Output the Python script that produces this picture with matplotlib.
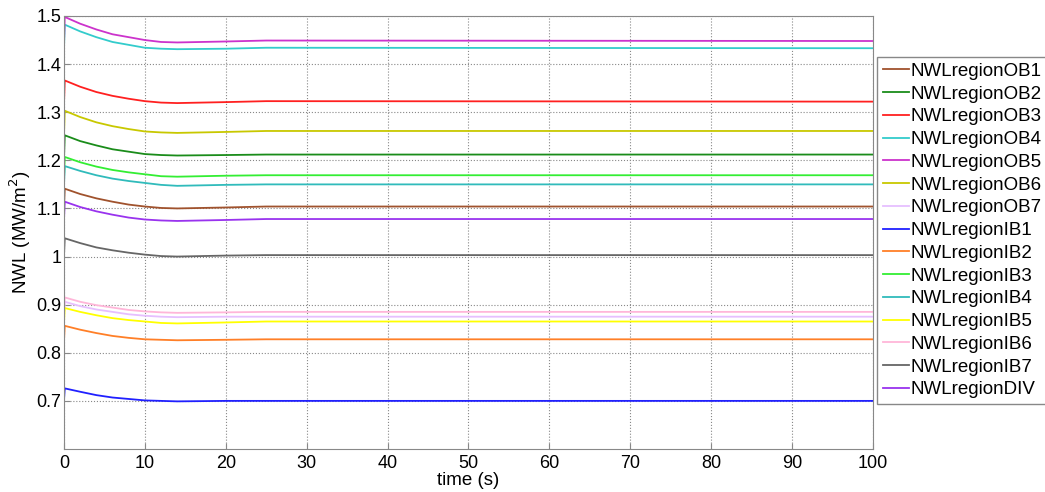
import matplotlib
matplotlib.use("Agg")
import matplotlib.pyplot as plt

plt.rcParams['font.family'] = ['Liberation Sans', 'DejaVu Sans']

# time points (s)
t = [0, 0.1, 2, 4, 6, 8, 10, 12, 14, 20, 25, 100]

names = ["NWLregionOB1", "NWLregionOB2", "NWLregionOB3", "NWLregionOB4", "NWLregionOB5",
         "NWLregionOB6", "NWLregionOB7", "NWLregionIB1", "NWLregionIB2", "NWLregionIB3",
         "NWLregionIB4", "NWLregionIB5", "NWLregionIB6", "NWLregionIB7", "NWLregionDIV"]

ob1 = [1.100, 1.141, 1.130, 1.121, 1.114, 1.108, 1.104, 1.101, 1.100, 1.102, 1.104, 1.104]
ob2 = [1.200, 1.252, 1.240, 1.231, 1.223, 1.218, 1.213, 1.211, 1.210, 1.211, 1.212, 1.212]
ob3 = [1.315, 1.366, 1.353, 1.342, 1.334, 1.328, 1.323, 1.320, 1.319, 1.321, 1.323, 1.322]
ob4 = [1.430, 1.482, 1.468, 1.456, 1.446, 1.440, 1.434, 1.432, 1.431, 1.432, 1.434, 1.433]
ob5 = [1.440, 1.498, 1.484, 1.472, 1.462, 1.456, 1.450, 1.446, 1.445, 1.447, 1.449, 1.448]
ob6 = [1.250, 1.303, 1.290, 1.279, 1.271, 1.265, 1.260, 1.258, 1.257, 1.259, 1.261, 1.261]
ob7 = [0.875, 0.906, 0.897, 0.890, 0.885, 0.880, 0.877, 0.875, 0.874, 0.875, 0.875, 0.875]
ib1 = [0.700, 0.726, 0.719, 0.712, 0.707, 0.704, 0.701, 0.700, 0.699, 0.700, 0.700, 0.700]
ib2 = [0.823, 0.856, 0.848, 0.841, 0.835, 0.831, 0.828, 0.827, 0.826, 0.827, 0.828, 0.828]
ib3 = [1.160, 1.207, 1.196, 1.187, 1.180, 1.175, 1.171, 1.167, 1.166, 1.168, 1.169, 1.169]
ib4 = [1.145, 1.188, 1.178, 1.169, 1.162, 1.157, 1.153, 1.149, 1.147, 1.149, 1.150, 1.150]
ib5 = [0.860, 0.893, 0.885, 0.878, 0.872, 0.868, 0.865, 0.862, 0.861, 0.863, 0.865, 0.865]
ib6 = [0.885, 0.915, 0.906, 0.899, 0.894, 0.889, 0.886, 0.884, 0.883, 0.884, 0.885, 0.885]
ib7 = [1.000, 1.038, 1.028, 1.019, 1.013, 1.008, 1.004, 1.001, 1.000, 1.002, 1.003, 1.003]
div = [1.075, 1.114, 1.103, 1.094, 1.087, 1.081, 1.077, 1.075, 1.074, 1.076, 1.078, 1.078]

series = [ob1, ob2, ob3, ob4, ob5, ob6, ob7, ib1, ib2, ib3, ib4, ib5, ib6, ib7, div]
colors = ["#a0522d", "#1a8c1a", "#ff2020", "#33cccc", "#cc33cc", "#c8c800", "#e6bfff",
          "#2020ff", "#ff7f27", "#33ee33", "#30bbbb", "#ffff00", "#ffb6d9", "#666666", "#9933ee"]

fig = plt.figure(figsize=(10.45, 4.92), dpi=100)
ax = fig.add_axes([0.0612, 0.0874, 0.7742, 0.8801])

for name, y, c in zip(names, series, colors):
    ax.plot(t, y, color=c, lw=1.3, label=name)

ax.set_xlim(0, 100)
ax.set_ylim(0.6, 1.5)
ax.set_xticks(range(0, 101, 10))
ax.set_yticks([0.7, 0.8, 0.9, 1.0, 1.1, 1.2, 1.3, 1.4, 1.5])
ax.set_yticklabels(["0.7", "0.8", "0.9", "1", "1.1", "1.2", "1.3", "1.4", "1.5"])
ax.grid(True, linestyle=':', color='#888888', lw=0.8)
ax.tick_params(labelsize=13, direction='in', length=4, color='#888888')
ax.tick_params(axis='y', pad=2)
ax.tick_params(axis='x', pad=4)
for s in ax.spines.values():
    s.set_color('#888888')

ax.set_xlabel("time (s)", fontsize=13.5, labelpad=0.5)
ax.set_ylabel("NWL (MW/m$^2$)", fontsize=13.5, labelpad=2)

ax.legend(loc='upper left', bbox_to_anchor=(0.8392, 0.884), bbox_transform=fig.transFigure,
          fontsize=13.5, handlelength=1.4, handletextpad=0.1, labelspacing=0.3,
          borderpad=0.3, borderaxespad=0, fancybox=False, edgecolor='#888888', framealpha=1)

fig.savefig("out.png", dpi=100)
